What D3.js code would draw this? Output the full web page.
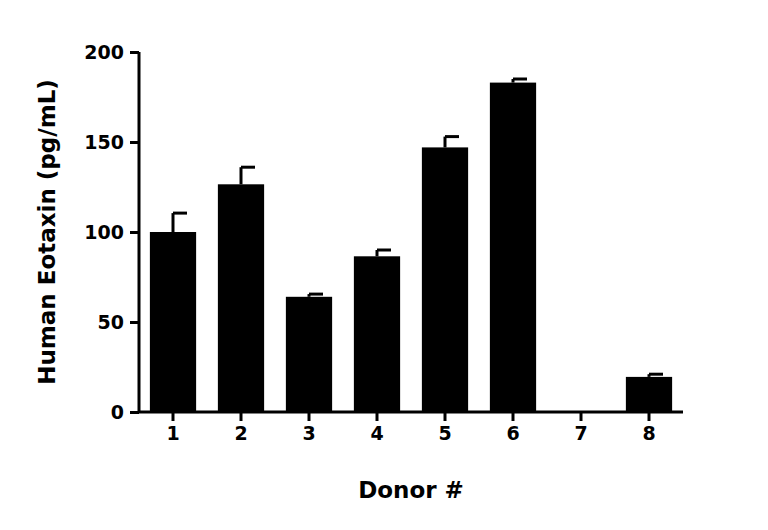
<!DOCTYPE html>
<html><head><meta charset="utf-8">
<script src="https://cdn.jsdelivr.net/npm/d3@7"></script>
<style>body{margin:0;background:#fff}text{font-family:"DejaVu Sans",sans-serif;font-weight:bold}</style>
</head><body><svg id="c" width="768" height="530"></svg>
<script>
const categories=["1","2","3","4","5","6","7","8"];
const values=[100,126.5,64,86.5,147,183,0,19.5];
const errors=[10.5,9.5,1.5,3.5,6,2,0,1.5];
const yTicks=[0,50,100,150,200];
const svg=d3.select("#c");
const x=d3.scaleBand().domain(categories).range([139,683]).paddingInner(0.32).paddingOuter(0.16);
const y=d3.scaleLinear().domain([0,200]).range([412,52]);
const g=svg.append("g");
g.selectAll("rect").data(values).enter().append("rect")
 .attr("x",(d,i)=>x(categories[i])).attr("width",x.bandwidth())
 .attr("y",d=>y(d)).attr("height",d=>y(0)-y(d)).attr("fill","#000");
values.forEach((v,i)=>{if(!errors[i])return;
 const cx=x(categories[i])+x.bandwidth()/2;
 g.append("line").attr("x1",cx).attr("x2",cx).attr("y1",y(v)).attr("y2",y(v+errors[i])).attr("stroke","#000").attr("stroke-width",3);
 g.append("line").attr("x1",cx).attr("x2",cx+14).attr("y1",y(v+errors[i])).attr("y2",y(v+errors[i])).attr("stroke","#000").attr("stroke-width",3);
});
const ya=svg.append("g").attr("transform","translate(139,0)").call(d3.axisLeft(y).tickValues(yTicks).tickSize(9).tickPadding(6));
const xa=svg.append("g").attr("transform","translate(0,412)").call(d3.axisBottom(x).tickSize(9).tickPadding(6));
[ya,xa].forEach(a=>{a.selectAll("path,line").attr("stroke","#000").attr("stroke-width",3);a.selectAll("text").attr("font-size",19).attr("fill","#000")});
ya.select("path").attr("d","M0,412V52");
xa.select("path").attr("d","M139,0H683");
svg.append("text").attr("x",411).attr("y",498).attr("text-anchor","middle").attr("font-size",23).text("Donor #");
svg.append("text").attr("transform","translate(55,232) rotate(-90)").attr("text-anchor","middle").attr("font-size",23).text("Human Eotaxin (pg/mL)");
</script></body></html>
